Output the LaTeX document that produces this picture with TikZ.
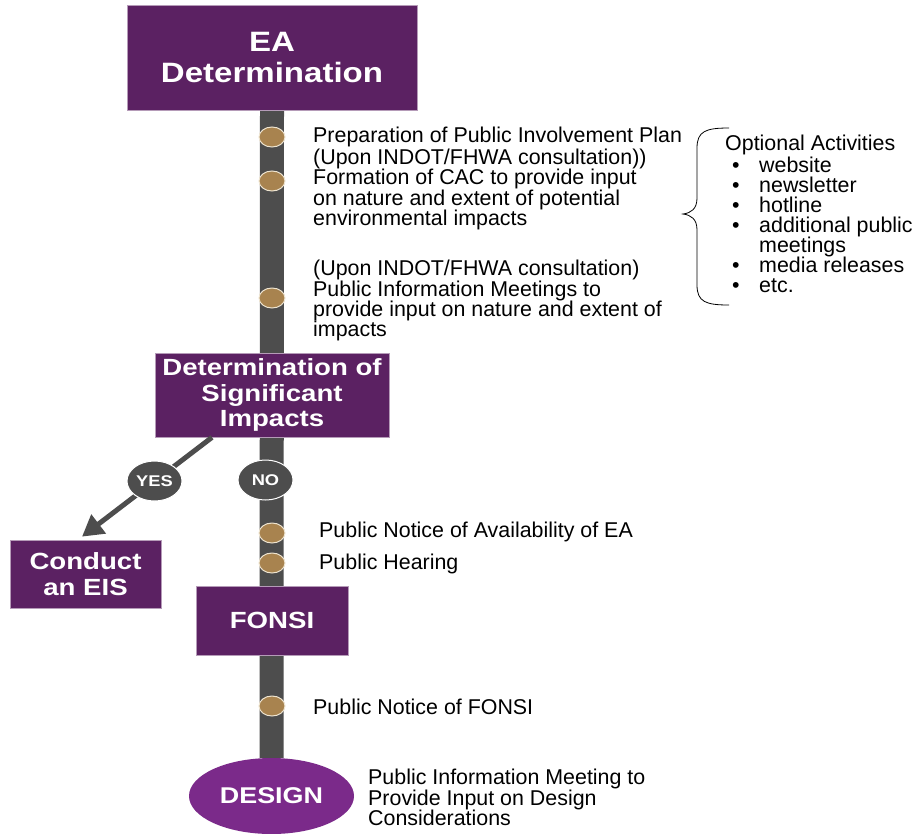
\documentclass[tikz,border=0pt]{standalone}
\usepackage{fontspec}
\setmainfont{Liberation Sans}
\newfontfamily\stagefont[FakeStretch=1.18]{Liberation Sans}
\usetikzlibrary{arrows.meta,shapes.geometric,backgrounds}

\definecolor{stagepurple}{RGB}{91,33,98}
\definecolor{designpurple}{RGB}{123,42,138}
\definecolor{railgray}{RGB}{77,77,77}
\definecolor{dotbrown}{RGB}{168,131,79}
\definecolor{dotedge}{RGB}{238,228,208}

\tikzset{
  stage/.style={rectangle, fill=stagepurple, draw=stagepurple!45, line width=0.7pt,
    text=white, align=center, inner sep=0pt,
    font=\stagefont\bfseries\fontsize{23.4}{25.5}\selectfont},
  milestone/.style={ellipse, fill=dotbrown, draw=dotedge, line width=1pt,
    minimum width=26pt, minimum height=20pt, inner sep=0pt},
  branch/.style={ellipse, fill=railgray, draw=white, line width=1pt,
    minimum width=55pt, minimum height=40pt, inner sep=0pt, text=white,
    font=\stagefont\bfseries\fontsize{15.5}{17}\selectfont},
  note/.style={anchor=base west, inner sep=0pt, text=black,
    font=\fontsize{21.4}{20.5}\selectfont},
  rail/.style={draw=railgray, line width=24pt},
  yesarrow/.style={draw=railgray, line width=5pt,
    -{Triangle[width=23pt,length=21pt]}},
  bracket/.style={draw=black, line width=0.8pt},
}

\begin{document}
\begin{tikzpicture}[x=1pt,y=-1pt]
\useasboundingbox (0,0) rectangle (917,833);

% stages of the process
\node[stage, minimum width=290pt, minimum height=105pt,
  font=\stagefont\bfseries\fontsize{28}{31}\selectfont]
  (ea) at (272,57.5) {EA\\Determination};
\node[stage, minimum width=234pt, minimum height=84pt]
  (sig) at (272,395) {Determination of\\Significant\\Impacts};
\node[stage, minimum width=151pt, minimum height=68pt]
  (eis) at (85.5,574) {Conduct\\an EIS};
\node[stage, minimum width=152pt, minimum height=69pt]
  (fonsi) at (272,620.5) {FONSI};
\node[ellipse, fill=designpurple, inner sep=0pt, minimum width=165pt,
  minimum height=76pt, text=white,
  font=\stagefont\bfseries\fontsize{22.8}{25}\selectfont]
  (design) at (271.5,796) {DESIGN};

% the timeline rail behind the stages
\begin{scope}[on background layer]
  \draw[rail] (ea.south) -- (design.north);
\end{scope}

% branch to an EIS
\draw[yesarrow] ([xshift=-60pt]sig.south) -- ([shift={(-3.5pt,3pt)}]eis.north);
\node[branch] (yes) at (154.5,481) {YES};
\node[branch] (no) at (265.5,480) {NO};

% milestones on the rail
\node[milestone] (m1) at (272,137) {};
\node[milestone] (m2) at (272,181) {};
\node[milestone] (m3) at (272,298) {};
\node[milestone] (m4) at (272,533) {};
\node[milestone] (m5) at (272,563) {};
\node[milestone] (m6) at (272,706) {};

% milestone descriptions
\node[note] (t1) at (313,142.5) {Preparation of Public Involvement Plan};
\node[note] (t2) at (313,164) {(Upon INDOT/FHWA consultation))};
\node[note] (t3) at (313,184.5) {Formation of CAC to provide input};
\node[note] (t4) at (313,205) {on nature and extent of potential};
\node[note] (t5) at (313,225.5) {environmental impacts};
\node[note] (t6) at (313,275.5) {(Upon INDOT/FHWA consultation)};
\node[note] (t7) at (313,296) {Public Information Meetings to};
\node[note] (t8) at (313,316.5) {provide input on nature and extent of};
\node[note] (t9) at (313,336.5) {impacts};
\node[note] (t10) at (319,537.5) {Public Notice of Availability of EA};
\node[note] (t11) at (319,569.5) {Public Hearing};
\node[note] (t12) at (313,714.5) {Public Notice of FONSI};
\node[note] (t13) at (368,784.5) {Public Information Meeting to};
\node[note] (t14) at (368,805) {Provide Input on Design};
\node[note] (t15) at (368,825) {Considerations};

% optional activities
\draw[bracket] (729,128) .. controls (706,128) and (697,131) .. (697,148)
  -- (697,198) .. controls (697,209) and (691,213) .. (683,214)
  .. controls (691,215) and (697,219) .. (697,230)
  -- (697,285) .. controls (697,302) and (706,305) .. (729,305);
\node[note] (opt) at (725,150) {Optional Activities};
\foreach \y/\txt [count=\i] in {172/website, 192/newsletter, 212.5/hotline,
    232.5/additional public, 272.5/media releases, 292.5/etc.}{
  \node[note] (b\i) at (732,\y) {\textbullet};
  \node[note] (o\i) at (759,\y) {\txt};
}
\node[note] (o7) at (759,252.5) {meetings};
\end{tikzpicture}
\end{document}
